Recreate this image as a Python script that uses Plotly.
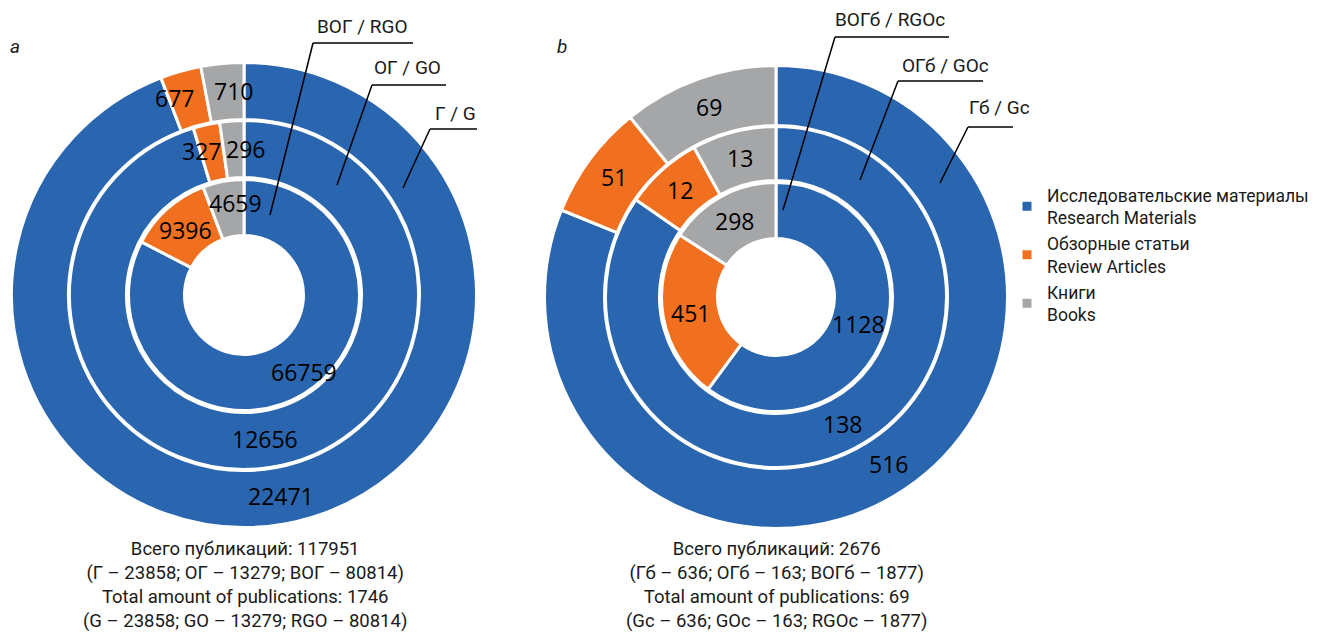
import math
import plotly.graph_objects as go

W, H = 1324, 633

# ---------------- data ----------------
categories = [
    "Исследовательские материалы<br>Research Materials",
    "Обзорные статьи<br>Review Articles",
    "Книги<br>Books",
]
colors = ["#2A66B0", "#F1701F", "#A5A6A8"]

# panel a (ВОГ inner, ОГ middle, Г outer)
a_inner = [66759, 9396, 4659]
a_middle = [12656, 327, 296]
a_outer = [22471, 677, 710]
# panel b (ВОГб inner, ОГб middle, Гб outer)
b_inner = [1128, 451, 298]
b_middle = [138, 12, 13]
b_outer = [516, 51, 69]

ring_names_a = ["ВОГ / RGO", "ОГ / GO", "Г / G"]
ring_names_b = ["ВОГб / RGOc", "ОГб / GOc", "Гб / Gc"]
panel_letters = ["a", "b"]
summary_a = [
    "Всего публикаций: 117951",
    "(Г – 23858; ОГ – 13279; ВОГ – 80814)",
    "Total amount of publications: 1746",
    "(G – 23858; GO – 13279; RGO – 80814)",
]
summary_b = [
    "Всего публикаций: 2676",
    "(Гб – 636; ОГб – 163; ВОГб – 1877)",
    "Total amount of publications: 69",
    "(Gc – 636; GOc – 163; RGOc – 1877)",
]

# ---------------- helpers ----------------
LW = 3
annotations = []
shapes = []
val_font = dict(family="Open Sans", size=23, color="black")


def px(x):
    return x / W


def py(y):
    return 1 - y / H


def ring(values, cx, cy, r_in, r_out, showlegend=False, nudges=None):
    R = r_out + LW / 2
    ri = r_in - LW / 2
    # value labels placed at each slice's mid-angle, mid-ring radius (derived from the values)
    nudges = nudges or {}
    total = float(sum(values))
    cum = 0.0
    for i, v in enumerate(values):
        mid = (cum + v / 2.0) / total * 360.0
        cum += v
        dth, dr = nudges.get(i, (0, 0))
        th = math.radians(mid + dth)
        r = (r_in + r_out) / 2.0 + dr
        annotations.append(dict(
            text=str(v), x=px(cx + r * math.sin(th)), y=py(cy - r * math.cos(th)),
            xref="paper", yref="paper", showarrow=False, font=val_font,
            xanchor="center", yanchor="middle"))
    return go.Pie(
        labels=categories,
        values=values,
        sort=False,
        direction="clockwise",
        rotation=0,
        hole=ri / R,
        domain=dict(x=[(cx - R) / W, (cx + R) / W], y=[(H - cy - R) / H, (H - cy + R) / H]),
        marker=dict(colors=colors, line=dict(color="white", width=LW)),
        textinfo="none",
        showlegend=showlegend,
        hoverinfo="label+value",
    )


fig = go.Figure()
# panel a
ca = (244, 295)
fig.add_trace(ring(a_outer, *ca, 177, 231, nudges={1: (-3.5, 5), 2: (2.3, 0)}))
fig.add_trace(ring(a_middle, *ca, 119, 173, nudges={1: (-4, 4), 2: (4.5, 0)}))
fig.add_trace(ring(a_inner, *ca, 61, 114, showlegend=True, nudges={0: (-6.5, 10), 2: (5, 5)}))
# panel b
cb = (776, 297)
fig.add_trace(ring(b_outer, *cb, 173, 230))
fig.add_trace(ring(b_middle, *cb, 118, 169))
fig.add_trace(ring(b_inner, *cb, 60, 113))

lab_font = dict(family="Roboto", size=19, color="#1a1a1a")

# ring name callouts: (text, text center x, text y, underline x0, x1, underline y, leader end x, y)
callouts = [
    (ring_names_a[0], 362, 27, 313, 413, 43, 270, 215),
    (ring_names_a[1], 407, 68, 372, 446, 85, 337, 185),
    (ring_names_a[2], 455, 113, 430, 477, 129, 403, 188),
    (ring_names_b[0], 890, 20, 835, 949, 37, 783, 210),
    (ring_names_b[1], 945, 66, 898, 983, 81, 860, 180),
    (ring_names_b[2], 999, 108, 968, 1013, 127, 940, 183),
]
for txt, tx, ty, ux0, ux1, uy, lx, ly in callouts:
    annotations.append(dict(text=txt, x=px(tx), y=py(ty), xref="paper", yref="paper",
                            showarrow=False, font=lab_font, xanchor="center", yanchor="middle"))
    shapes.append(dict(type="line", xref="paper", yref="paper", x0=px(ux0), x1=px(ux1),
                       y0=py(uy), y1=py(uy), line=dict(color="black", width=1.5)))
    shapes.append(dict(type="line", xref="paper", yref="paper", x0=px(ux0), x1=px(lx),
                       y0=py(uy), y1=py(ly), line=dict(color="black", width=1.5)))

for letter, lx in zip(panel_letters, [15, 562]):
    annotations.append(dict(text="<i>" + letter + "</i>", x=px(lx), y=py(47), xref="paper", yref="paper",
                            showarrow=False, font=dict(family="Roboto", size=19, color="#1a1a1a"),
                            xanchor="center", yanchor="middle"))

for lines, cx in [(summary_a, 245), (summary_b, 776)]:
    annotations.append(dict(text="<br>".join(lines), x=px(cx), y=py(584.5), xref="paper", yref="paper",
                            showarrow=False, font=dict(family="Roboto", size=18.5, color="#1a1a1a"),
                            align="center", xanchor="center", yanchor="middle"))

fig.update_layout(
    width=W,
    height=H,
    margin=dict(l=0, r=0, t=0, b=0, autoexpand=False),
    paper_bgcolor="white",
    plot_bgcolor="white",
    showlegend=True,
    legend=dict(
        x=px(1007), y=py(177), xanchor="left", yanchor="top",
        font=dict(family="Roboto", size=17.5, color="#1a1a1a"),
        bgcolor="rgba(0,0,0,0)", traceorder="normal",
    ),
    shapes=shapes,
    annotations=annotations,
)

fig.write_html("out.html", config={"displayModeBar": False},
               post_script="document.body.style.margin='0px';")
